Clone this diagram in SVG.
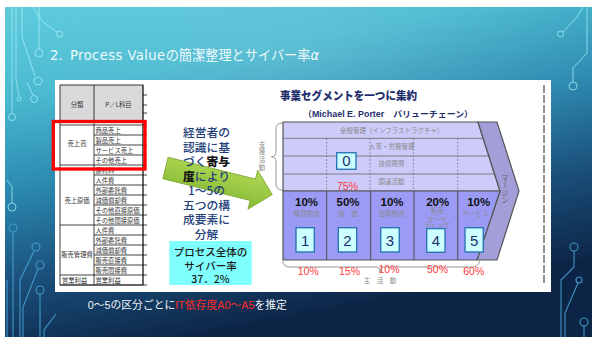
<svg xmlns="http://www.w3.org/2000/svg" width="592" height="337" viewBox="0 0 592 337">
<defs>
<linearGradient id="bg" x1="0" y1="0" x2="0.35" y2="1">
<stop offset="0" stop-color="#5ccbdc"/>
<stop offset="0.25" stop-color="#48b9d0"/>
<stop offset="0.5" stop-color="#2b89b0"/>
<stop offset="0.75" stop-color="#1a4f7a"/>
<stop offset="1" stop-color="#0c2445"/>
</linearGradient>
<radialGradient id="glow" cx="0.5" cy="0.15" r="0.55">
<stop offset="0" stop-color="#ffffff" stop-opacity="0.12"/>
<stop offset="1" stop-color="#ffffff" stop-opacity="0"/>
</radialGradient>
<linearGradient id="arrowG" x1="0" y1="0" x2="0" y2="1">
<stop offset="0" stop-color="#b3d957"/>
<stop offset="1" stop-color="#86bb34"/>
</linearGradient>
<style>
.ck{fill:none;stroke:#a8eef7;stroke-width:1;opacity:0.75}
.cb{fill:none;stroke:#4aa6dc;stroke-width:1.1;opacity:0.85}
.tb{font-family:"Noto Sans CJK JP",sans-serif;font-size:6.3px;fill:#333}
.ln{stroke:#111;stroke-width:0.8;fill:none}
.sup{font-family:"Noto Sans CJK JP",sans-serif;font-size:6.5px;fill:#8a8a8a;text-anchor:middle}
.pct{font-family:"Liberation Sans","Noto Sans CJK JP",sans-serif;font-size:11.5px;font-weight:900;fill:#111;text-anchor:middle}
.red{font-family:"Liberation Sans","Noto Sans CJK JP",sans-serif;font-size:10.5px;fill:#ff3b3b;text-anchor:middle}
.nbox{fill:#ccffff;stroke:#2e75b6;stroke-width:1.4}
.num{font-family:"Liberation Sans",sans-serif;font-size:15px;fill:#1f2f6e;text-anchor:middle}
.atx{font-family:"Noto Sans CJK JP",sans-serif;font-size:11.8px;fill:#243f7a;text-anchor:middle;font-weight:500}
.cy{font-family:"Noto Sans CJK JP",sans-serif;font-size:10.5px;fill:#1a1a1a;text-anchor:middle;font-weight:500}
</style>
</defs>
<rect x="0" y="0" width="592" height="337" fill="#ffffff"/>
<rect x="5" y="7" width="587" height="330" fill="url(#bg)"/>
<rect x="5" y="7" width="587" height="330" fill="url(#glow)"/>

<g id="circuits">
<path class="ck" d="M12 7V113"/><circle class="ck" cx="12" cy="117" r="3.5"/>
<path class="ck" d="M16 7V80L19 96"/><circle class="ck" cx="19" cy="99" r="2"/>
<path class="ck" d="M33 7L43 22L57 32"/><circle class="ck" cx="59.5" cy="34" r="3"/>
<path class="ck" d="M39 7V49"/><circle class="ck" cx="39" cy="53" r="4"/>
<path class="ck" d="M22 7V37L35 76"/><circle class="ck" cx="38" cy="81" r="4"/>
<path class="ck" d="M27 82L33 95"/><circle class="ck" cx="34" cy="99" r="3.5"/>
<path class="ck" d="M7 180L12 187V203"/><circle class="ck" cx="12" cy="207" r="4"/>
<circle class="cb" cx="13" cy="228" r="4"/><path class="cb" d="M13 232V337"/>
<path class="cb" d="M7 280V337"/>
<circle class="cb" cx="36" cy="247" r="4"/><path class="cb" d="M34 251L20 280V337"/>
<circle class="cb" cx="40" cy="265" r="4"/><path class="cb" d="M38 269L23 307V337"/>
<circle class="cb" cx="40" cy="290" r="4"/><path class="cb" d="M40 294V337"/>
<path class="cb" d="M56 314L44 330V337"/>
<path class="ck" d="M583 7L577 17L563 32"/><circle class="ck" cx="560.5" cy="34" r="3"/>
<path class="ck" d="M587 7V53L573 68V82"/><circle class="ck" cx="573" cy="86" r="4"/>
<circle class="cb" cx="574" cy="247" r="4"/><path class="cb" d="M574 251V267L561 280V337"/>
<circle class="cb" cx="579" cy="280" r="3"/><path class="cb" d="M578 283L565 313V337"/>
<circle class="cb" cx="584" cy="322" r="4"/><path class="cb" d="M584 326V337"/>
</g>

<text id="title" x="50" y="60" font-family="DejaVu Sans,Noto Sans CJK JP,sans-serif" font-size="13.2" fill="#eefafc">2.<tspan x="70" letter-spacing="0.4">Process Value</tspan><tspan>の簡潔整理とサイバー率</tspan><tspan font-style="italic">α</tspan></text>

<rect id="panel" x="55" y="80" width="496" height="212" fill="#ffffff"/>

<g id="pl-table">
<rect x="60" y="85" width="83" height="37" fill="#d9d9d9"/>
<rect x="60" y="85" width="83" height="200" class="ln"/>
<path class="ln" d="M94 85V285M143 85V285M60 122H147M60 125H147M143 95H147M143 105H147M143 113H147"/>
<path class="ln" d="M94 135H147M94 145H147M94 155H147M60 165H147M94 175H147M94 185H147M94 195H147M94 205H147M94 215H147M60 225H147M94 235H147M94 245H147M94 255H147M94 265H147M60 275H147M60 285H147"/>
<text class="tb" x="77" y="107" text-anchor="middle">分類</text>
<text class="tb" x="118.5" y="107" text-anchor="middle">P／L科目</text>
<text class="tb" x="77" y="146" text-anchor="middle">売上高</text>
<text class="tb" x="77" y="203" text-anchor="middle">売上原価</text>
<text class="tb" x="77" y="257" text-anchor="middle">販売管理費</text>
<text class="tb" x="62" y="283">営業利益</text>
<text class="tb" x="95.5" y="132.5">商品売上</text>
<text class="tb" x="95.5" y="142.5">製品売上</text>
<text class="tb" x="95.5" y="152.5">サービス売上</text>
<text class="tb" x="95.5" y="162.5">その他売上</text>
<text class="tb" x="95.5" y="172.5">原材料</text>
<text class="tb" x="95.5" y="182.5">人件費</text>
<text class="tb" x="95.5" y="192.5">外部委託費</text>
<text class="tb" x="95.5" y="202.5">減価償却費</text>
<text class="tb" x="95.5" y="212.5">その他直接原価</text>
<text class="tb" x="95.5" y="222.5">その他間接原価</text>
<text class="tb" x="95.5" y="232.5">人件費</text>
<text class="tb" x="95.5" y="242.5">外部委託費</text>
<text class="tb" x="95.5" y="252.5">減価償却費</text>
<text class="tb" x="95.5" y="262.5">販売直接費</text>
<text class="tb" x="95.5" y="272.5">販売間接費</text>
<text class="tb" x="95.5" y="282.5">営業利益</text>
</g>
<rect id="highlight" x="53.3" y="121.5" width="91.7" height="47.5" fill="none" stroke="#ff0000" stroke-width="3.3"/>

<g id="connectors">
<path id="big-arrow" d="M0 -11H90V-20L110 0L90 20V11H0Z" transform="translate(165.5 168) rotate(14)" fill="url(#arrowG)" stroke="#7aa52e" stroke-width="0.8"/>
<path id="brace-support" d="M282.5 123Q276 123 276 129V151Q276 156.7 271.5 156.7Q276 156.7 276 162V184Q276 190 282.5 190" fill="none" stroke="#8a8a8a" stroke-width="0.9"/>
<path id="brace-main" d="M283 261Q283 267 290 267H376Q380 267 380 272Q380 267 384 267H472Q478 267 480 261" fill="none" stroke="#8a8a8a" stroke-width="0.9"/>
</g>

<g id="arrow-text">
<text class="atx" x="206.5" y="137">経営者の</text>
<text class="atx" x="206.5" y="151.5">認識に基</text>
<text class="atx" x="206.5" y="166">づく<tspan fill="#111" font-weight="900">寄与</tspan></text>
<text class="atx" x="206.5" y="180.5"><tspan fill="#111" font-weight="900">度</tspan>により</text>
<text class="atx" x="206.5" y="195">1～5の</text>
<text class="atx" x="206.5" y="209.5">五つの構</text>
<text class="atx" x="206.5" y="224">成要素に</text>
<text class="atx" x="206.5" y="238.5">分解</text>
</g>

<g id="total-rate">
<rect x="169.3" y="241" width="82.4" height="44" fill="#80ffff"/>
<text class="cy" x="210.5" y="256">プロセス全体の</text>
<text class="cy" x="210.5" y="269.5">サイバー率</text>
<text class="cy" x="210.5" y="282.5">37．2%</text>
</g>

<g id="vc-title">
<text x="280" y="100" font-family="Noto Sans CJK JP,sans-serif" font-size="11.5" font-weight="900" fill="#1f2f6e" textLength="137" lengthAdjust="spacingAndGlyphs">事業セグメントを一つに集約</text>
<text x="303" y="117" font-family="Liberation Sans,Noto Sans CJK JP,sans-serif" font-size="8.5" font-weight="bold" fill="#1f2f6e" textLength="170" lengthAdjust="spacingAndGlyphs">（Michael E. Porter　バリューチェーン）</text>
</g>

<g id="support-activities">
<path d="M283 122H478L500 191H283Z" fill="#cccbfa" stroke="#555" stroke-width="1.2"/>
<path d="M283 138.3H483.2M283 156H488.8M283 174H494.6" stroke="#666" stroke-width="0.8"/>
<path d="M326.7 138.3V191M370 138.3V191M413.3 138.3V191M457.7 138.3V191" stroke="#666" stroke-width="0.8" stroke-dasharray="1.5 2"/>
<text class="sup" x="391.7" y="132.5">全般管理（インフラストラクチャ）</text>
<text class="sup" x="391.7" y="148.5">人事・労務管理</text>
<text class="sup" x="391.5" y="166.3">技術開発</text>
<text class="sup" x="391.5" y="184">調達活動</text>
<text class="sup" font-size="6"><tspan x="262" y="146.5">支</tspan><tspan x="262" y="154">援</tspan><tspan x="262" y="161.5">活</tspan><tspan x="262" y="169.5">動</tspan></text>
</g>

<g id="margin">
<path d="M478 122H497L519 191L497 260H477L500 191Z" fill="#a29fd8" stroke="#555" stroke-width="1.2"/>
<text x="505" y="174" font-family="Noto Sans CJK JP,sans-serif" font-size="7.5" fill="#666" style="writing-mode:vertical-rl">マージン</text>
</g>

<g id="primary-activities">
<path d="M283 191H500L477 260H283Z" fill="#9b9af5" stroke="#555" stroke-width="1.2"/>
<path d="M326.7 191V260M370.7 191V260M414 191V260M457.7 191V260" stroke="#555" stroke-width="1.1"/>
<text class="pct" x="306.5" y="206">10%</text>
<text class="pct" x="348" y="206">50%</text>
<text class="pct" x="392" y="206">10%</text>
<text class="pct" x="437.7" y="206">20%</text>
<text class="pct" x="478.7" y="206">10%</text>
<text class="sup" x="306.7" y="216">購買物流</text>
<text class="sup" x="348" y="216">製　造</text>
<text class="sup" x="391.5" y="216">出荷物流</text>
<text class="sup" font-size="5.8"><tspan x="437" y="213">販売</tspan><tspan x="437" y="217.5">・</tspan><tspan x="437" y="222">マーケ</tspan><tspan x="437" y="227.6">ティング</tspan></text>
<text class="sup" x="475.5" y="216">サービス</text>
</g>

<g id="seg0">
<rect class="nbox" x="336.7" y="152.7" width="19.3" height="16.6"/>
<text class="num" x="346.3" y="166" font-size="14">0</text>
<text class="red" x="347.5" y="190">75%</text>
</g>
<g id="seg1"><rect class="nbox" x="296" y="227.7" width="18.3" height="24.3"/><text class="num" x="305.2" y="245.5">1</text><text class="red" x="308.3" y="275">10%</text></g>
<g id="seg2"><rect class="nbox" x="338.3" y="227.7" width="18.4" height="24.3"/><text class="num" x="347.5" y="245.5">2</text><text class="red" x="349.5" y="275">15%</text></g>
<g id="seg3"><rect class="nbox" x="380.7" y="227.7" width="18.6" height="24.3"/><text class="num" x="390" y="245.5">3</text><text class="red" x="389" y="273">10%</text></g>
<g id="seg4"><rect class="nbox" x="426.7" y="228.6" width="18.3" height="23.7"/><text class="num" x="435.9" y="246">4</text><text class="red" x="437.5" y="273">50%</text></g>
<g id="seg5"><rect class="nbox" x="465" y="227.7" width="18.3" height="24.3"/><text class="num" x="474.2" y="245.5">5</text><text class="red" x="473.8" y="275">60%</text></g>
<text class="sup" x="380" y="282.5">主　活　動</text>

<path id="page-edge" d="M544 85V283" stroke="#222" stroke-width="1" stroke-dasharray="8 2"/>

<text id="note" x="87.7" y="309" font-family="Liberation Sans,Noto Sans CJK JP,sans-serif" font-size="10.8" fill="#f0f4f8">0～5の区分ごとに<tspan fill="#ff2a2a">IT依存度A0～A5</tspan>を推定</text>
</svg>
